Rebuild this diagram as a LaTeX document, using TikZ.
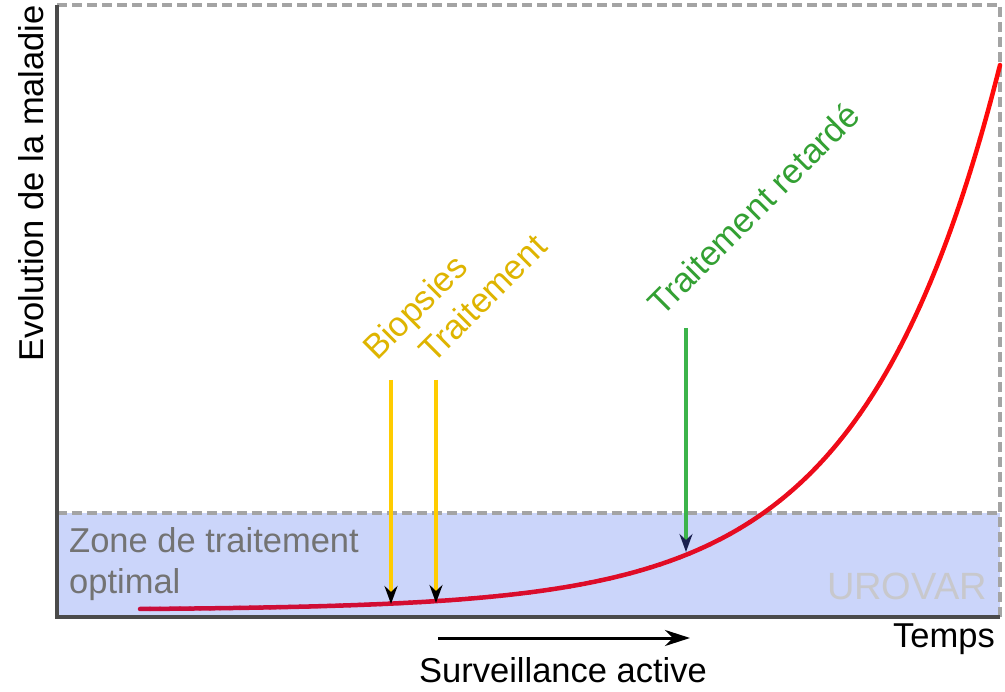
\documentclass[tikz,border=0pt]{standalone}
\usepackage{fontspec}
\setmainfont{Liberation Sans}
\usetikzlibrary{arrows.meta}
\definecolor{zoneblue}{HTML}{CBD5FA}
\definecolor{framegray}{HTML}{A4A4A4}
\definecolor{axisgray}{HTML}{4A4A4A}
\definecolor{crim}{HTML}{C80E3C}
\definecolor{curvered}{HTML}{FF0A0A}
\definecolor{goldtext}{HTML}{DEB400}
\definecolor{goldarrow}{HTML}{FFCC00}
\definecolor{greentext}{HTML}{33A033}
\definecolor{greenarrow}{HTML}{3CB44B}
\definecolor{navyhead}{HTML}{1A2050}
\definecolor{zonetext}{HTML}{737373}
\definecolor{marktext}{HTML}{C8C8CC}
\begin{document}
\begin{tikzpicture}[x=1pt,y=-1pt,
  big/.style={font=\fontsize{34.5}{41}\selectfont, inner sep=0pt},
  axisline/.style={draw=axisgray, line width=3.5pt},
  frameline/.style={draw=framegray, line width=3.2pt, dash pattern=on 10pt off 5pt},
  curveseg/.style={line width=4.5pt, line cap=round},
  marker/.style={line width=4pt, -{Stealth[length=18pt,width=13pt,inset=6pt,color=black]}},
  timearrow/.style={line width=3pt, -{Stealth[length=25pt,width=16pt,inset=8pt]}}]
\useasboundingbox (0,0) rectangle (1005,692);

% optimal treatment zone
\fill[zoneblue] (57,513) rectangle (1000,617);
\draw[frameline] (57,5) -- (1000,5) -- (1000,617);
\draw[frameline] (57,513) -- (1000,513);

% disease progression curve, colour shading along its length
\foreach \a in {140,150,...,990}{
  \pgfmathsetmacro\b{\a+10}
  \pgfmathsetmacro\m{\a+5}
  \pgfmathsetmacro\f{((\m-140)+1.0286*(exp(0.0073*(\m-140))-1))/1407}
  \pgfmathtruncatemacro\p{min(100,115*\f)}
  \draw[curveseg, color=curvered!\p!crim]
    plot[domain=\a:\b, samples=5] (\x,{609-1.0286*(exp(0.0073*(\x-140))-1)});
}

% event markers
\coordinate (bioTop) at (391,380);
\coordinate (bioEnd) at (391,604);
\coordinate (traTop) at (436,380);
\coordinate (traEnd) at (436,603);
\coordinate (retTop) at (686,328);
\coordinate (retEnd) at (686,552);
\draw[marker, goldarrow] (bioTop) -- (bioEnd);
\draw[marker, goldarrow] (traTop) -- (traEnd);
\draw[line width=4pt, greenarrow, -{Stealth[length=18pt,width=13pt,inset=6pt,color=navyhead]}] (retTop) -- (retEnd);

\node[big, text=goldtext, rotate=45, anchor=base west] (bio) at (377,362) {Biopsies};
\node[big, text=goldtext, rotate=45, anchor=base west] (tra) at (433,365) {Traitement};
\node[big, text=greentext, rotate=45, anchor=base west] (ret) at (662,318) {Traitement retardé};

% zone labels
\node[big, text=zonetext, anchor=base west] (zone1) at (69,553) {Zone de traitement};
\node[big, text=zonetext, anchor=base west] (zone2) at (69,594) {optimal};
\node[font=\fontsize{38}{44}\selectfont, inner sep=0pt, text=marktext, anchor=base east] (mark) at (987,600) {UROVAR};

% axes
\draw[axisline] (57,5) -- (57,617) -- (1000,617);
\node[big, rotate=90, anchor=base west] (ylab) at (43,362) {Evolution de la maladie};
\node[big, anchor=base east] (xlab) at (995,647) {Temps};

% active surveillance period
\coordinate (survStart) at (438,638);
\coordinate (survEnd) at (690,638);
\draw[timearrow] (survStart) -- (survEnd);
\node[big, anchor=base west] (surv) at (419,682) {Surveillance active};
\end{tikzpicture}
\end{document}
